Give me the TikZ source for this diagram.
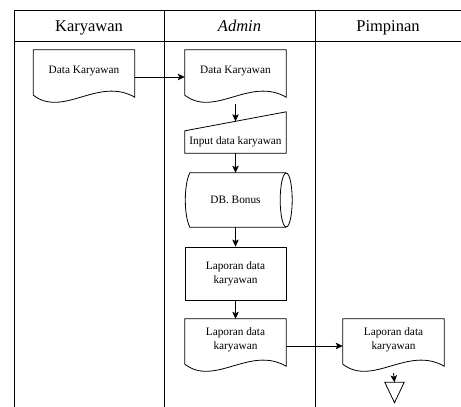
\documentclass[tikz,border=0pt]{standalone}
\usepackage{fontspec}
\setmainfont{Liberation Serif}
\usetikzlibrary{calc,arrows.meta}

% outline of a document symbol drawn on the frame of a named node
\newcommand\docoutline[1]{%
  \draw[line] ($(#1.south west)+(0,-9)$) -- (#1.north west) -- (#1.north east)
    -- ($(#1.south east)+(0,-7)$)
    .. controls ($(#1.south west)+(65,-28)$) and ($(#1.south west)+(30,14)$) .. cycle;}

\begin{document}
\begin{tikzpicture}[x=1pt,y=-1pt,
  line/.style={line width=0.8pt,draw=black},
  flow/.style={line width=0.8pt,-{Stealth[length=7pt,width=6.5pt,inset=1.5pt]}},
  heading/.style={anchor=base,font=\fontsize{16.5}{19}\selectfont},
  box/.style={draw=none,minimum width=101pt,inner sep=1pt,align=center,
    font=\fontsize{11.3}{14}\selectfont},
  docbox/.style={box,minimum height=54pt,text depth=14pt},
]
\useasboundingbox (0,0) rectangle (461,407);

% swimlane frame
\draw[line] (14,407) -- (14,10.5) -- (461,10.5);
\draw[line] (14,41) -- (461,41);
\draw[line] (164.5,10.5) -- (164.5,407);
\draw[line] (315,10.5) -- (315,407);

\node[heading] (hk) at (89,31.5) {Karyawan};
\node[heading] (ha) at (239.5,31.5) {\itshape Admin};
\node[heading] (hp) at (388,31.5) {Pimpinan};

% documents
\node[docbox] (d1) at (84,77) {Data Karyawan};
\docoutline{d1}
\node[docbox] (d2) at (235.5,77) {Data Karyawan};
\docoutline{d2}

% manual input
\node[box,minimum height=22pt] (inp) at (235.5,142) {Input data karyawan};
\draw[line] (inp.north west) -- (inp.south west) -- (inp.south east)
  -- ($(inp.north east)+(0,-19)$) -- cycle;
\coordinate (inpslant) at ($(inp.north)+(0,-9.5)$);

% stored data
\node[box,minimum height=54pt] (db) at (235.5,200) {DB. Bonus};
\draw[line] ($(db.north west)+(5,0)$) -- (db.north east)
  (db.south east) -- ($(db.south west)+(5,0)$)
  .. controls ($(db.south west)+(-1,-12)$) and ($(db.north west)+(-1,12)$) .. ($(db.north west)+(5,0)$);
\draw[line] (db.east) ellipse [x radius=6pt, y radius=27pt];

% process
\node[box,draw,line width=0.8pt,minimum height=53pt] (rep) at (235.5,273.5) {Laporan data\\karyawan};

% report documents
\node[docbox] (d3) at (235.5,346) {Laporan data\\karyawan};
\docoutline{d3}
\node[docbox] (d4) at (393.5,346) {Laporan data\\karyawan};
\docoutline{d4}

% off-page terminator
\node[draw=none,minimum width=19pt,minimum height=20pt,inner sep=0pt] (term) at (394.5,392.5) {};
\draw[line] (term.north west) -- (term.north east) -- (term.south) -- cycle;

% flow connectors
\draw[flow] (d1.east) -- (d2.west);
\draw[flow] (d2.south) -- (inpslant);
\draw[flow] (inp.south) -- (db.north);
\draw[flow] (db.south) -- (rep.north);
\draw[flow] (rep.south) -- (d3.north);
\draw[flow] (d3.east) -- (d4.west);
\draw[flow] (d4.south) -- (term.north);
\end{tikzpicture}
\end{document}
